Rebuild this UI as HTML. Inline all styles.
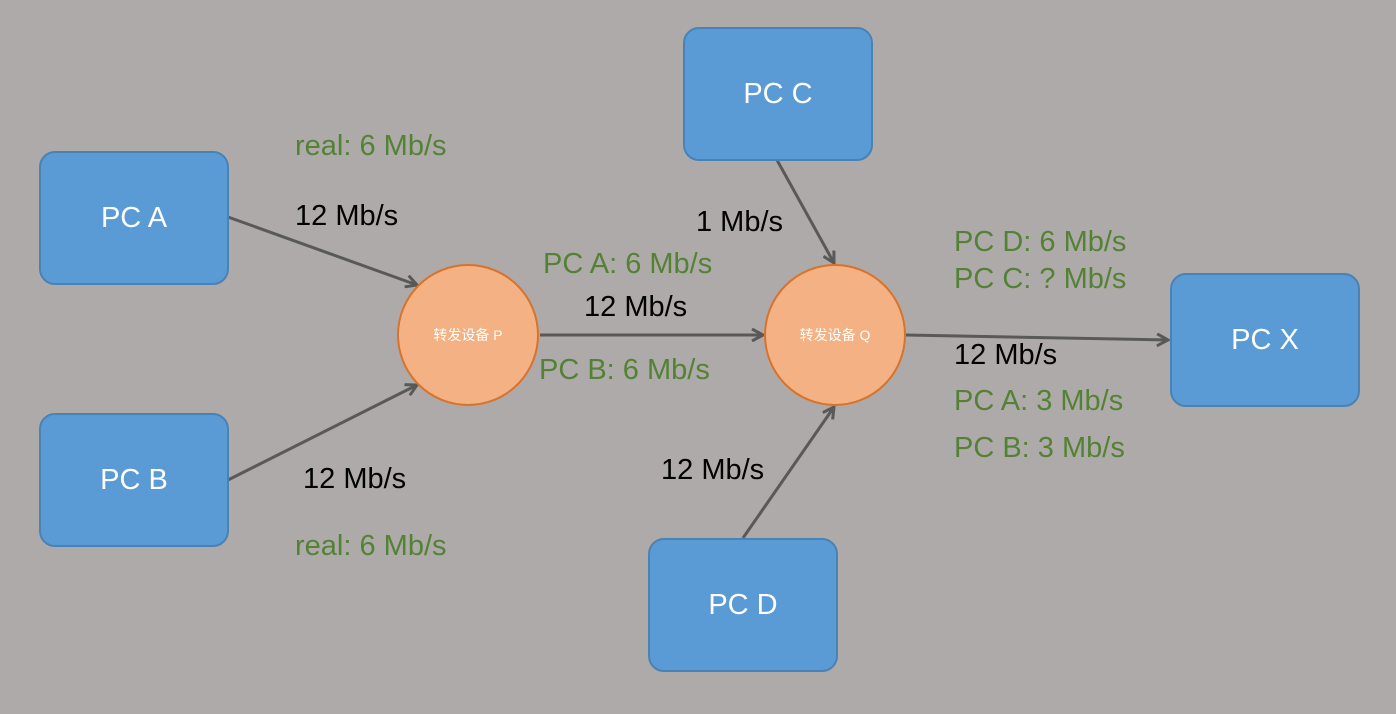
<!DOCTYPE html>
<html><head><meta charset="utf-8"><style>
body{margin:0;width:1396px;height:714px;background:#aeaaa9;overflow:hidden;position:relative;font-family:"Liberation Sans","Noto Sans CJK SC",sans-serif}
.b{position:absolute;width:190px;height:134px;background:#5b9bd5;border:2px solid #4a82b5;border-radius:16px;box-sizing:border-box;color:#fff;font-size:29px;display:flex;align-items:center;justify-content:center}
.c{position:absolute;width:142px;height:142px;border-radius:50%;background:#f4b183;border:2px solid #d8732c;box-sizing:border-box;color:#fff;font-size:14px;display:flex;align-items:center;justify-content:center}
.t{position:absolute;font-size:29px;color:#000;white-space:nowrap;line-height:1}
.g{color:#548235}
svg{position:absolute;left:0;top:0}
</style></head><body>
<svg width="1396" height="714"><defs><marker id="a" markerWidth="14" markerHeight="14" refX="12" refY="7" orient="auto" markerUnits="userSpaceOnUse"><path d="M1,1 L12,7 L1,13" fill="none" stroke="#595959" stroke-width="3"/></marker></defs>
<g stroke="#595959" stroke-width="3" fill="none" marker-end="url(#a)">
<line x1="228" y1="217" x2="417" y2="285"/>
<line x1="228" y1="480" x2="417" y2="385"/>
<line x1="540" y1="335" x2="763" y2="335"/>
<line x1="777" y1="160" x2="834" y2="263"/>
<line x1="743" y1="538" x2="834" y2="407"/>
<line x1="906" y1="335" x2="1168" y2="340"/>
</g></svg>
<div class="b" style="left:39px;top:151px">PC A</div>
<div class="b" style="left:39px;top:413px">PC B</div>
<div class="b" style="left:683px;top:27px">PC C</div>
<div class="b" style="left:648px;top:538px">PC D</div>
<div class="b" style="left:1170px;top:273px">PC X</div>
<div class="c" style="left:397px;top:264px">转发设备 P</div>
<div class="c" style="left:764px;top:264px">转发设备 Q</div>
<div class="t g" style="left:295px;top:132px">real: 6 Mb/s</div>
<div class="t" style="left:295px;top:202px">12 Mb/s</div>
<div class="t" style="left:303px;top:465px">12 Mb/s</div>
<div class="t g" style="left:295px;top:532px">real: 6 Mb/s</div>
<div class="t g" style="left:543px;top:250px">PC A: 6 Mb/s</div>
<div class="t" style="left:584px;top:293px">12 Mb/s</div>
<div class="t g" style="left:539px;top:356px">PC B: 6 Mb/s</div>
<div class="t" style="left:696px;top:208px">1 Mb/s</div>
<div class="t" style="left:661px;top:456px">12 Mb/s</div>
<div class="t g" style="left:954px;top:228px">PC D: 6 Mb/s</div>
<div class="t g" style="left:954px;top:265px">PC C: ? Mb/s</div>
<div class="t" style="left:954px;top:341px">12 Mb/s</div>
<div class="t g" style="left:954px;top:387px">PC A: 3 Mb/s</div>
<div class="t g" style="left:954px;top:434px">PC B: 3 Mb/s</div>
</body></html>
